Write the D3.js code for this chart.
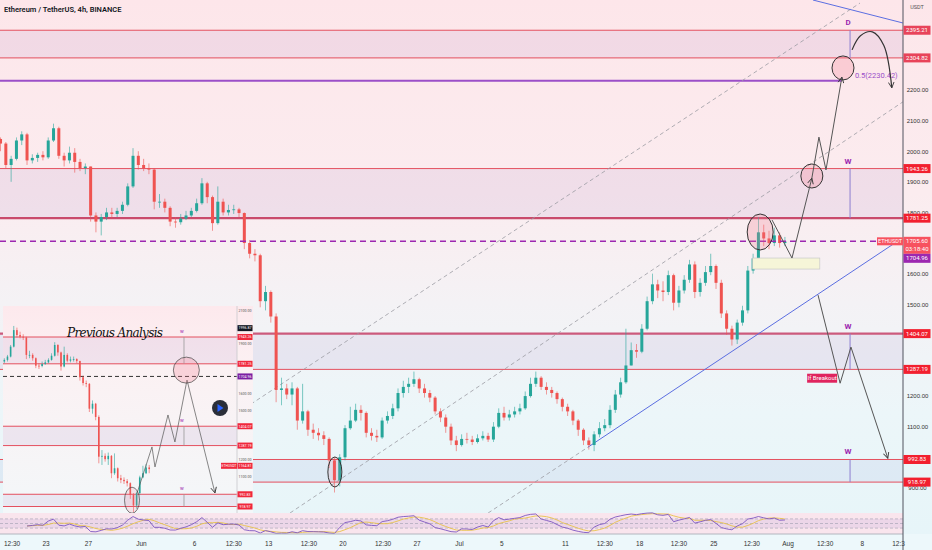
<!DOCTYPE html>
<html>
<head>
<meta charset="utf-8">
<title>ETHUSDT 4h</title>
<script src="https://cdn.jsdelivr.net/npm/d3@7/dist/d3.min.js"></script>
<style>
	html, body { margin: 0; padding: 0; background: #ffffff; }
	svg { display: block; font-family: "Liberation Sans Narrow", "Roboto", "DejaVu Sans", sans-serif; }
</style>
</head>
<body>
<svg id="chart" width="932" height="550"></svg>
<script>

// ETH / USDT in 12h steps (open = previous close)
var candleStart = "2022-05-18T12:00";
var firstOpen = 2040;
var closes = [
	2025,1955,1975,2035,2055,1970,1978,1988,1980,2035,
	2075,1985,1970,1995,1965,1945,1950,1790,1770,1785,
	1800,1795,1805,1825,1885,1985,1955,1945,1940,1835,
	1835,1815,1770,1768,1780,1790,1805,1830,1895,1850,
	1765,1835,1800,1808,1810,1798,1700,1665,1660,1510,
	1540,1460,1220,1225,1205,1225,1120,1150,1090,1080,
	1072,1060,990,925,1000,1095,1120,1155,1145,1080,
	1070,1065,1120,1135,1160,1210,1230,1240,1255,1225,
	1210,1195,1150,1130,1100,1055,1040,1060,1058,1050,
	1062,1070,1058,1100,1145,1130,1140,1150,1160,1200,
	1240,1260,1230,1220,1210,1190,1165,1150,1120,1090,
	1055,1040,1075,1095,1105,1155,1205,1245,1300,1350,
	1345,1420,1510,1565,1545,1540,1595,1505,1545,1580,
	1630,1540,1570,1605,1625,1570,1470,1420,1385,1440,
	1480,1610,1650,1735,1715,1700,1725,1700,1705
];
var highs = [
	2045,2030,1985,2045,2065,2060,1990,1995,2000,2045,
	2090,2080,1995,2015,2010,1975,1960,1950,1800,1795,
	1815,1815,1815,1835,1895,2010,2000,1975,1960,1945,
	1860,1845,1820,1785,1795,1805,1815,1845,1912,1900,
	1855,1885,1845,1825,1825,1815,1800,1710,1680,1665,
	1560,1545,1470,1260,1240,1245,1230,1240,1155,1110,
	1095,1085,1065,1000,1010,1105,1165,1175,1170,1150,
	1095,1090,1130,1150,1175,1225,1250,1260,1280,1260,
	1240,1220,1200,1160,1140,1110,1070,1075,1080,1070,
	1075,1085,1080,1115,1160,1165,1155,1165,1175,1215,
	1260,1280,1265,1245,1230,1215,1195,1175,1155,1125,
	1095,1065,1085,1115,1125,1170,1220,1260,1420,1375,
	1370,1435,1525,1600,1580,1575,1610,1600,1560,1595,
	1645,1640,1585,1625,1665,1630,1580,1480,1430,1450,
	1495,1625,1665,1785,1760,1740,1750,1735,1720
];
var lows = [
	2000,1945,1900,1970,2020,1955,1960,1965,1970,1975,
	2030,1975,1950,1960,1930,1935,1925,1770,1735,1725,
	1775,1780,1785,1795,1820,1880,1940,1935,1925,1810,
	1815,1800,1755,1750,1760,1775,1785,1800,1825,1830,
	1740,1760,1790,1790,1795,1785,1680,1650,1640,1490,
	1480,1440,1180,1170,1190,1170,1090,1110,1070,1060,
	1055,1040,965,885,905,990,1090,1115,1120,1065,
	1055,1050,1060,1110,1125,1150,1195,1210,1230,1210,
	1195,1180,1140,1115,1080,1040,1020,1035,1045,1040,
	1045,1055,1050,1050,1095,1120,1120,1130,1140,1155,
	1195,1230,1220,1205,1195,1175,1150,1135,1105,1070,
	1040,1025,1020,1065,1085,1095,1145,1195,1240,1300,
	1325,1340,1415,1500,1520,1510,1530,1480,1490,1535,
	1570,1520,1525,1560,1595,1550,1455,1400,1365,1370,
	1430,1470,1600,1645,1690,1680,1690,1685,1690
];

// supply / demand boxes
var zoneTops = [2395.21, 1943.26, 1404.07, 992.83];
var zoneBottoms = [2304.82, 1781.25, 1287.19, 918.97];
var zoneMarks = ["D", "W", "W", "W"];
var fibLevel = 2230.42;
var lastPrice = 1705.60;
var markPrice = 1704.96;
var countdown = "03:18:40";

var priceTicks = [900, 1000, 1100, 1200, 1300, 1400, 1500, 1600, 1700, 1800, 1900, 2000, 2100, 2200, 2300, 2400];
var timeTicks = ["2022-05-19T19:00","2022-05-23T00:00","2022-05-27T00:00","2022-06-01T00:00","2022-06-06T00:00",
	"2022-06-09T17:00","2022-06-13T00:00","2022-06-16T19:00","2022-06-20T00:00","2022-06-23T19:00",
	"2022-06-27T00:00","2022-07-01T00:00","2022-07-05T00:00","2022-07-11T00:00","2022-07-14T17:00",
	"2022-07-18T00:00","2022-07-21T17:00","2022-07-25T00:00","2022-07-28T14:00","2022-08-01T00:00",
	"2022-08-04T12:00","2022-08-08T00:00","2022-08-11T10:00"];
var timeLabels = ["12:30","23","27","Jun","6","12:30","13","12:30","20","12:30","27","Jul","5","11","12:30","18","12:30","25","12:30","Aug","12:30","8","12:3"];

// drawn projections, [time, price]
var pathUpA = [["2022-07-30T13:00",1775],["2022-08-01T10:00",1651],["2022-08-03T07:00",1912]];
var pathUpB = [["2022-08-03T07:00",1912],["2022-08-03T23:00",2046],["2022-08-04T15:00",1939],["2022-08-06T03:00",2242]];
var curveD = [["2022-08-07T02:00",2331],["2022-08-07T21:00",2377],["2022-08-09T00:00",2390],["2022-08-10T02:00",2345],["2022-08-10T20:00",2207]];
var pathDown = [["2022-08-03T21:00",1530],["2022-08-05T23:00",1242],["2022-08-06T23:30",1360],["2022-08-10T11:00",997]];
var channelA = [["2022-06-10T19:30",1161],["2022-08-07T20:00",2484]];
var channelB = [["2022-06-15T01:30",818],["2022-08-11T21:00",2161]];
var channelC = [["2022-07-03T18:00",818],["2022-07-13T04:00",1033]];
var trendBlue = [["2022-07-13T04:00",1033],["2022-08-11T03:00",1700]];
var trendBlueTop = [["2022-08-03T09:30",2494],["2022-08-11T21:00",2419]];
var circles = [["2022-07-29T10:00",1736],["2022-08-03T07:00",1919],["2022-08-06T05:30",2272]];
var lowEllipse = ["2022-06-19T07:00",952];
var waitBox = [["2022-07-28T17:00",1651],["2022-08-04T01:00",1615]];
var fibEnd = "2022-08-06T03:00";
var markTime = "2022-08-06T21:30";

// the old idea pasted in the corner
var insetPath = [["2022-06-19T20:00",1001],["2022-06-22T04:30",1279],["2022-06-22T16:00",1158],["2022-06-24T17:30",1472],["2022-06-25T20:00",1309],["2022-06-27T18:00",1683],["2022-07-02T04:30",1001]];
var insetCircle = ["2022-06-27T15:30",1743];
var insetEllipse = ["2022-06-19T00:30",957];
var insetMarkTime = "2022-06-27T06:30";
var insetTicks = [1100, 1200, 1300, 1400, 1500, 1600, 1700, 1800, 1900, 2000, 2100];
var insetHigh = 1996.87;
var insetLast = 1164.81;


var parse = d3.utcParse("%Y-%m-%dT%H:%M");
var svg = d3.select("#chart");
var plotR = 903, plotB = 513;
var upCol = "#26a69a", downCol = "#ef5350", purple = "#9c27b0";

var x = d3.scaleUtc().domain([parse("2022-05-18T16:48"), parse("2022-08-11T21:22")]).range([0, plotR]);
var y = d3.scaleLinear().domain([818, 2494]).range([plotB, 0]);

var defs = svg.append("defs");
function gradient(id, stops){
	var g = defs.append("linearGradient").attr("id", id).attr("x1", 0).attr("y1", 0).attr("x2", 0).attr("y2", 1);
	stops.forEach(function(s){ g.append("stop").attr("offset", s[0]).attr("stop-color", s[1]); });
}
gradient("bg", [[0, "#fde6ea"], [0.35, "#fbecef"], [0.55, "#f4f2f5"], [0.75, "#ecf6f9"], [1, "#e6f5f9"]]);
gradient("insetBg", [[0, "#fde9ed"], [0.3, "#fbf1f3"], [1, "#f3f7f9"]]);

defs.append("clipPath").attr("id", "plotClip").append("rect").attr("width", plotR).attr("height", plotB);
defs.append("clipPath").attr("id", "insetClip").append("rect").attr("x", 3).attr("y", 306).attr("width", 234).attr("height", 207);

defs.append("marker").attr("id", "arr").attr("viewBox", "0 0 10 10").attr("refX", 9).attr("refY", 5)
	.attr("markerUnits", "userSpaceOnUse").attr("markerWidth", 7).attr("markerHeight", 7).attr("orient", "auto")
	.append("path").attr("d", "M1,1 L9,5 L1,9").attr("fill", "none").attr("stroke", "#3a3a3a").attr("stroke-width", 1.3);

svg.append("rect").attr("width", 932).attr("height", 550).attr("fill", "url(#bg)");

var plot = svg.append("g").attr("clip-path", "url(#plotClip)");

function line(xs, ys){
	return d3.line().x(function(d){ return xs(parse(d[0])); }).y(function(d){ return ys(d[1]); });
}
var ln = line(x, y);

// zones
zoneTops.forEach(function(top, i){
	var bot = zoneBottoms[i];
	plot.append("rect").attr("x", 0).attr("width", plotR).attr("y", y(top)).attr("height", y(bot) - y(top))
		.attr("fill", i == 3 ? "rgba(90,100,190,0.08)" : "rgba(110,70,170,0.08)");
	plot.append("line").attr("x1", 0).attr("x2", plotR).attr("y1", y(top)).attr("y2", y(top))
		.attr("stroke", i == 2 ? "#cc5a7c" : "#e4505f").attr("stroke-width", i == 2 ? 2.2 : 1);
	plot.append("line").attr("x1", 0).attr("x2", plotR).attr("y1", y(bot)).attr("y2", y(bot))
		.attr("stroke", i == 1 ? "#c94b6c" : "#e4505f").attr("stroke-width", i == 1 ? 2.2 : 1);
	// D / W markers
	plot.append("line").attr("x1", x(parse(markTime))).attr("x2", x(parse(markTime)))
		.attr("y1", y(top)).attr("y2", y(bot)).attr("stroke", "#8c7fd0").attr("stroke-width", 1);
	plot.append("text").attr("x", x(parse(markTime)) - 2).attr("y", y(top) - 5).attr("text-anchor", "middle")
		.attr("font-size", 8).attr("font-weight", "bold").attr("fill", purple).text(zoneMarks[i]);
});

// fib 0.5 line
plot.append("line").attr("x1", 0).attr("x2", x(parse(fibEnd))).attr("y1", y(fibLevel)).attr("y2", y(fibLevel))
	.attr("stroke", "#9b4fc8").attr("stroke-width", 2);
plot.append("text").attr("x", x(parse(fibEnd)) + 13).attr("y", y(fibLevel) - 3)
	.attr("font-size", 7.5).attr("fill", "#9b4fc8").text("0.5(" + fibLevel.toFixed(2) + ")");

// channels
[channelA, channelB, channelC].forEach(function(c){
	plot.append("path").attr("d", ln(c)).attr("fill", "none").attr("stroke", "#9a9aa2")
		.attr("stroke-width", 0.8).attr("stroke-dasharray", "4,3");
});
[trendBlue, trendBlueTop].forEach(function(c){
	plot.append("path").attr("d", ln(c)).attr("fill", "none").attr("stroke", "#5b6ee1").attr("stroke-width", 1);
});

// candles
var step = 12 * 3600 * 1000;
var t0 = parse(candleStart).getTime();
var candles = closes.map(function(c, i){
	return { t: new Date(t0 + i * step + step / 2), o: i ? closes[i - 1] : firstOpen, h: highs[i], l: lows[i], c: c };
});

function drawCandles(g, data, xs, ys, bw){
	var k = g.append("g").selectAll("g").data(data).enter().append("g");
	k.append("line")
		.attr("x1", function(d){ return xs(d.t); }).attr("x2", function(d){ return xs(d.t); })
		.attr("y1", function(d){ return ys(d.h); }).attr("y2", function(d){ return ys(d.l); })
		.attr("stroke", function(d){ return d.c >= d.o ? upCol : downCol; })
		.attr("stroke-width", 0.8).attr("opacity", 0.75);
	k.append("rect")
		.attr("x", function(d){ return xs(d.t) - bw / 2; }).attr("width", bw)
		.attr("y", function(d){ return ys(Math.max(d.o, d.c)); })
		.attr("height", function(d){ return Math.max(0.8, Math.abs(ys(d.o) - ys(d.c))); })
		.attr("fill", function(d){ return d.c >= d.o ? upCol : downCol; });
}
drawCandles(plot, candles, x, y, 3);

// last price
plot.append("line").attr("x1", 0).attr("x2", plotR).attr("y1", y(lastPrice)).attr("y2", y(lastPrice))
	.attr("stroke", purple).attr("stroke-width", 1.5).attr("stroke-dasharray", "6,4");

// waiting box under the range
plot.append("rect").attr("x", x(parse(waitBox[0][0]))).attr("y", y(waitBox[0][1]))
	.attr("width", x(parse(waitBox[1][0])) - x(parse(waitBox[0][0])))
	.attr("height", y(waitBox[1][1]) - y(waitBox[0][1]))
	.attr("fill", "#f6f5d8").attr("stroke", "#c9c9c9").attr("stroke-width", 0.7);

// circles
var circR = [[13, 18], [11, 12], [11, 12]];
circles.forEach(function(c, i){
	plot.append("ellipse").attr("cx", x(parse(c[0]))).attr("cy", y(c[1]))
		.attr("rx", circR[i][0]).attr("ry", circR[i][1])
		.attr("fill", "rgba(242,120,140,0.25)").attr("stroke", "#333").attr("stroke-width", 1);
});
plot.append("ellipse").attr("cx", x(parse(lowEllipse[0]))).attr("cy", y(lowEllipse[1]))
	.attr("rx", 7).attr("ry", 15).attr("fill", "rgba(242,120,140,0.12)").attr("stroke", "#333").attr("stroke-width", 1);

// projections
[pathUpA, pathUpB, pathDown].forEach(function(p){
	plot.append("path").attr("d", ln(p)).attr("fill", "none").attr("stroke", "#555")
		.attr("stroke-width", 1).attr("marker-end", "url(#arr)");
});
plot.append("path").attr("d", line(x, y).curve(d3.curveCatmullRom)(curveD)).attr("fill", "none")
	.attr("stroke", "#333").attr("stroke-width", 1.2).attr("marker-end", "url(#arr)");

// if breakout tag
var bx = x(parse(pathDown[1][0])) - 3, by = y(pathDown[1][1]) - 5;
plot.append("rect").attr("x", bx - 30).attr("y", by - 4.5).attr("width", 30).attr("height", 9).attr("fill", "#e0245e");
plot.append("text").attr("x", bx - 15).attr("y", by + 2).attr("text-anchor", "middle")
	.attr("font-size", 6).attr("fill", "#fff").text("If Breakout");

// RSI panel
var rsiTop = 513, rsiBot = 534;
var yr = d3.scaleLinear().domain([0, 100]).range([535, 512]);
svg.append("rect").attr("x", 0).attr("y", rsiTop).attr("width", plotR).attr("height", rsiBot - rsiTop).attr("fill", "#f9e5ed");
svg.append("rect").attr("x", 0).attr("y", yr(70)).attr("width", plotR).attr("height", yr(30) - yr(70)).attr("fill", "rgba(126,87,194,0.10)");
[70, 50, 30].forEach(function(v){
	svg.append("line").attr("x1", 0).attr("x2", plotR).attr("y1", yr(v)).attr("y2", yr(v))
		.attr("stroke", "#9e9eae").attr("stroke-width", 0.6).attr("stroke-dasharray", "3,2");
});
function rsiSeries(vals, n){
	var out = [], g = 0, l = 0;
	for (var i = 1; i < vals.length; i++) {
		var d = vals[i] - vals[i - 1], up = Math.max(d, 0), dn = Math.max(-d, 0);
		if (i <= n) { g += up / n; l += dn / n; if (i < n) continue; }
		else { g = (g * (n - 1) + up) / n; l = (l * (n - 1) + dn) / n; }
		out.push({ t: candles[i].t, v: 100 - 100 / (1 + g / (l || 1e-9)) });
	}
	return out;
}
var rsi = rsiSeries(closes, 5);
var rsiMa = rsi.map(function(d, i){
	var s = rsi.slice(Math.max(0, i - 4), i + 1);
	return { t: d.t, v: d3.mean(s, function(e){ return e.v; }) };
});
var rl = d3.line().x(function(d){ return x(d.t); }).y(function(d){ return yr(d.v); });
svg.append("path").attr("d", rl(rsiMa)).attr("fill", "none").attr("stroke", "#e8c34a").attr("stroke-width", 0.9);
svg.append("path").attr("d", rl(rsi)).attr("fill", "none").attr("stroke", "#7e57c2").attr("stroke-width", 0.9);

// time axis
svg.append("rect").attr("x", 0).attr("y", rsiBot).attr("width", 932).attr("height", 550 - rsiBot).attr("fill", "#edf8fb");
svg.append("line").attr("x1", 0).attr("x2", plotR).attr("y1", rsiBot).attr("y2", rsiBot).attr("stroke", "#b2b5be").attr("stroke-width", 1);
var xAxis = d3.axisBottom(x).tickValues(timeTicks.map(parse)).tickSize(0)
	.tickFormat(function(d, i){ return timeLabels[i]; });
var xg = svg.append("g").attr("transform", "translate(0," + (rsiBot + 4) + ")").call(xAxis);
xg.select(".domain").remove();
xg.selectAll("text").attr("font-size", 6.5).attr("fill", "#333").attr("font-family", null);

// title
svg.append("text").attr("x", 4).attr("y", 12).attr("font-size", 7.5).attr("font-weight", 600)
	.attr("fill", "#131722").text("Ethereum / TetherUS, 4h, BINANCE");

// ---------- inset ----------
var ins = svg.append("g");
ins.append("rect").attr("x", 3).attr("y", 306).attr("width", 250).attr("height", 207).attr("fill", "url(#insetBg)");
var ix = d3.scaleUtc().domain([parse("2022-05-29T13:00"), parse("2022-07-05T13:00")]).range([3, 236.1]);
var iy = d3.scaleLinear().domain([918.97, 1943.26]).range([506.5, 337]);
var iln = line(ix, iy);
var ip = ins.append("g").attr("clip-path", "url(#insetClip)");
zoneTops.slice(1).forEach(function(top, k){
	var bot = zoneBottoms[k + 1];
	ip.append("rect").attr("x", 3).attr("width", 234).attr("y", iy(top)).attr("height", iy(bot) - iy(top))
		.attr("fill", "rgba(110,70,170,0.08)");
	[top, bot].forEach(function(v){
		ip.append("line").attr("x1", 3).attr("x2", 237).attr("y1", iy(v)).attr("y2", iy(v))
			.attr("stroke", "#e4505f").attr("stroke-width", 1);
	});
	ip.append("line").attr("x1", ix(parse(insetMarkTime))).attr("x2", ix(parse(insetMarkTime)))
		.attr("y1", iy(top)).attr("y2", iy(bot)).attr("stroke", "#999").attr("stroke-width", 0.8);
	ip.append("text").attr("x", ix(parse(insetMarkTime)) - 2).attr("y", iy(top) - 4).attr("text-anchor", "middle")
		.attr("font-size", 5).attr("fill", purple).text("w");
});
ip.append("line").attr("x1", 3).attr("x2", 237).attr("y1", iy(markPrice)).attr("y2", iy(markPrice))
	.attr("stroke", "#333").attr("stroke-width", 1).attr("stroke-dasharray", "4,3");
drawCandles(ip, candles.slice(21, 69), ix, iy, 1.6);
ip.append("path").attr("d", iln(insetPath)).attr("fill", "none").attr("stroke", "#555")
	.attr("stroke-width", 0.7).attr("marker-end", "url(#arr)");
ip.append("circle").attr("cx", ix(parse(insetCircle[0]))).attr("cy", iy(insetCircle[1])).attr("r", 13)
	.attr("fill", "rgba(242,120,140,0.25)").attr("stroke", "#444").attr("stroke-width", 0.7);
ip.append("ellipse").attr("cx", ix(parse(insetEllipse[0]))).attr("cy", iy(insetEllipse[1])).attr("rx", 7.5).attr("ry", 13)
	.attr("fill", "rgba(242,120,140,0.15)").attr("stroke", "#444").attr("stroke-width", 0.7);
ins.append("text").attr("x", 67).attr("y", 337).attr("font-family", "DejaVu Serif, serif").attr("font-style", "italic")
	.attr("font-size", 12).attr("textLength", 96).attr("fill", "#111").text("Previous Analysis");
// play button of the pasted snapshot
ins.append("circle").attr("cx", 220).attr("cy", 408).attr("r", 8).attr("fill", "#2a2e39");
ins.append("path").attr("d", "M217.5,404 L223.5,408 L217.5,412 Z").attr("fill", "#2962ff");
// inset price axis
ins.append("line").attr("x1", 237).attr("x2", 237).attr("y1", 306).attr("y2", 513).attr("stroke", "#c8c8cc").attr("stroke-width", 0.8);
var insetTagged = [insetHigh, markPrice, insetLast].concat(zoneTops.slice(1), zoneBottoms.slice(1));
insetTicks.forEach(function(v){
	var hidden = insetTagged.some(function(t){ return Math.abs(iy(t) - iy(v)) < 5; });
	if (hidden) return;
	ins.append("text").attr("x", 245).attr("y", iy(v) + 1.3).attr("text-anchor", "middle")
		.attr("font-size", 3.6).attr("fill", "#555").text(d3.format(".2f")(v));
});
function insetTag(v, col, label){
	ins.append("rect").attr("x", 237.5).attr("y", iy(v) - 3).attr("width", 15).attr("height", 6).attr("fill", col);
	ins.append("text").attr("x", 245).attr("y", iy(v) + 1.3).attr("text-anchor", "middle")
		.attr("font-size", 3.6).attr("fill", "#fff").text(label || d3.format(".2f")(v));
}
insetTag(insetHigh, "#131722");
zoneTops.slice(1).forEach(function(v, k){ insetTag(v, "#f0283c"); insetTag(zoneBottoms[k + 1], "#f0283c"); });
insetTag(markPrice, "#7b1fa2");
insetTag(insetLast, "#f0283c");
ins.append("rect").attr("x", 221).attr("y", iy(insetLast) - 3).attr("width", 16).attr("height", 6).attr("fill", "#f0283c");
ins.append("text").attr("x", 229).attr("y", iy(insetLast) + 1.3).attr("text-anchor", "middle")
	.attr("font-size", 3.4).attr("fill", "#fff").text("ETHUSDT");

// ---------- right price axis ----------
// ticks that sit under a price tag are hidden, as on the platform
var tagged = [lastPrice].concat(zoneTops, zoneBottoms);
var shownTicks = priceTicks.filter(function(v){
	return !tagged.some(function(t){ return Math.abs(y(t) - y(v)) < 5; });
});
var yAxis = d3.axisRight(y).tickValues(shownTicks).tickSize(0).tickFormat(d3.format(".2f"));
var yg = svg.append("g").attr("transform", "translate(" + plotR + ",0)").call(yAxis);
yg.select(".domain").remove();
yg.selectAll("text").attr("x", 14.5).attr("text-anchor", "middle").attr("font-size", 6).attr("fill", "#333").attr("font-family", null);
svg.append("line").attr("x1", plotR).attr("x2", plotR).attr("y1", 0).attr("y2", 550).attr("stroke", "#50535e").attr("stroke-width", 1);
svg.append("text").attr("x", 917).attr("y", 9).attr("text-anchor", "middle").attr("font-size", 5.5).attr("fill", "#555").text("USDT");

function tag(yy, col, label, h){
	svg.append("rect").attr("x", plotR + 0.5).attr("y", yy - 4.5).attr("width", 27).attr("height", h || 9).attr("fill", col);
	svg.append("text").attr("x", plotR + 14).attr("y", yy + 2).attr("text-anchor", "middle")
		.attr("font-size", 6).attr("fill", "#fff").text(label);
}
zoneTops.forEach(function(v, i){
	var col = i == 0 ? "#e8435a" : "#f2202f";
	tag(y(v), col, v.toFixed(2));
	tag(y(zoneBottoms[i]), col, zoneBottoms[i].toFixed(2));
});
tag(y(lastPrice), "#f7525f", lastPrice.toFixed(2), 17);
svg.append("text").attr("x", plotR + 14).attr("y", y(lastPrice) + 10).attr("text-anchor", "middle")
	.attr("font-size", 6).attr("fill", "#fff").text(countdown);
tag(y(lastPrice) + 17, "#9c27b0", markPrice.toFixed(2));
svg.append("rect").attr("x", plotR - 26).attr("y", y(lastPrice) - 4).attr("width", 26).attr("height", 8).attr("fill", "#f7525f");
svg.append("text").attr("x", plotR - 13).attr("y", y(lastPrice) + 2).attr("text-anchor", "middle")
	.attr("font-size", 5.5).attr("fill", "#fff").text("ETHUSDT");

</script>
</body>
</html>
